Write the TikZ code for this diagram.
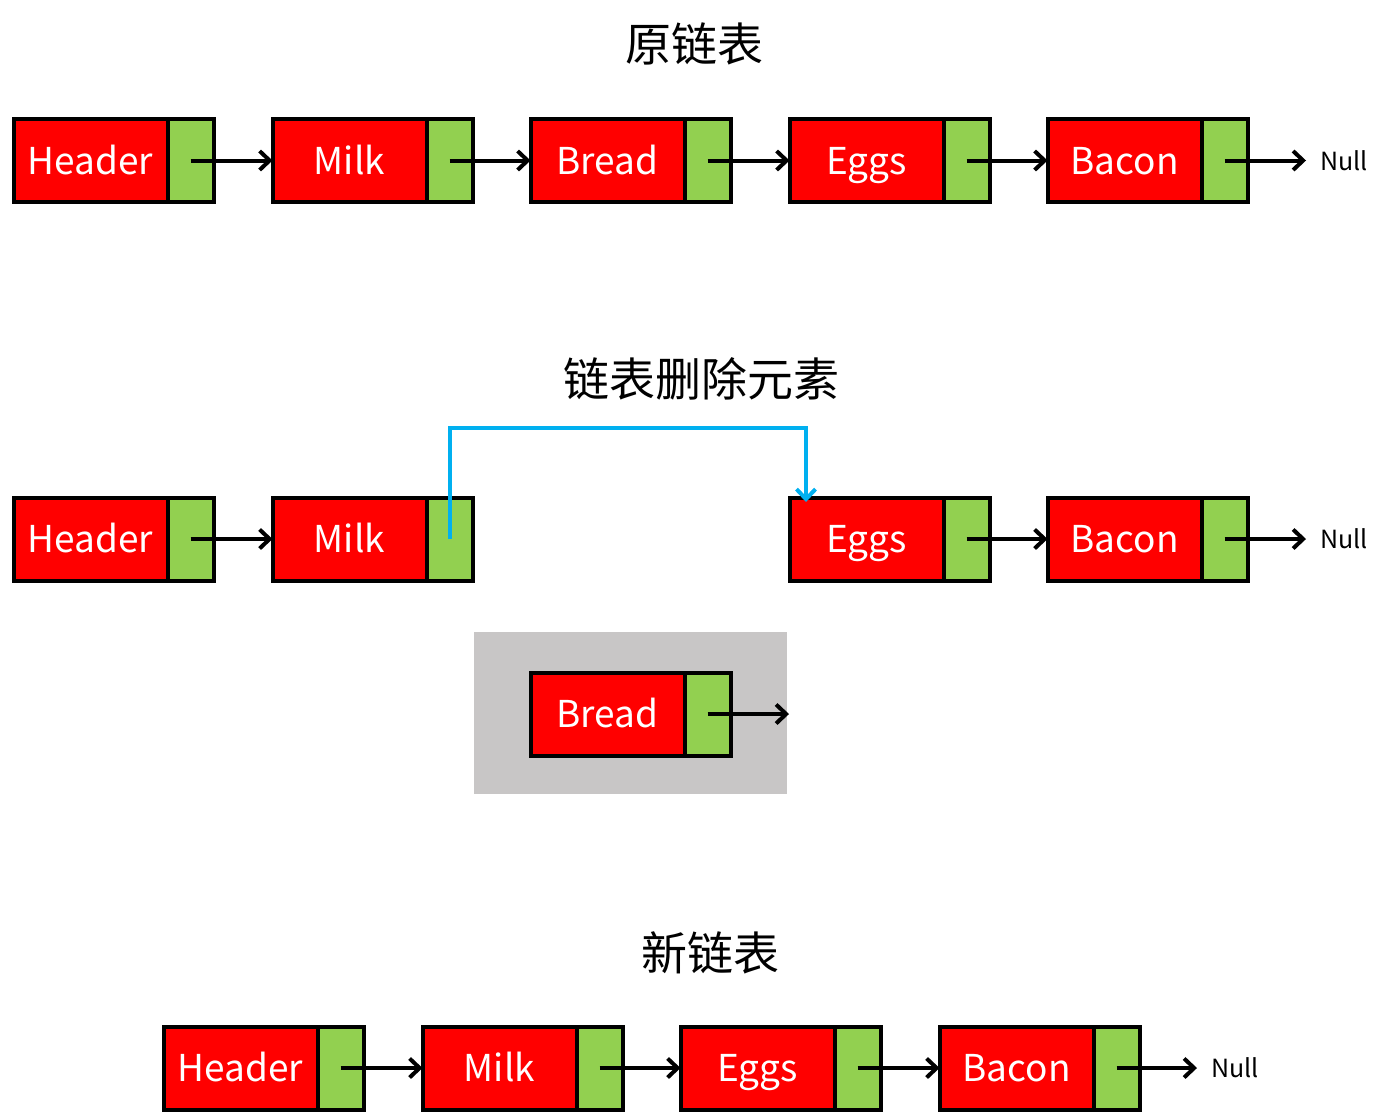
\documentclass[tikz,border=0pt]{standalone}
\usepackage{fontspec}
\setmainfont{Noto Sans CJK SC}
\usetikzlibrary{arrows.meta}
\definecolor{nodered}{HTML}{FF0000}
\definecolor{nodegreen}{HTML}{92D050}
\definecolor{linkblue}{HTML}{00B0F0}
\definecolor{grayback}{HTML}{C8C6C6}
\tikzset{
  datapart/.style={draw=black, line width=4pt, fill=nodered, minimum width=154pt, minimum height=83pt, inner sep=0pt, outer sep=0pt, text=white, text height=27pt, text depth=0pt, font=\fontsize{37}{37}\selectfont},
  ptrpart/.style={draw=black, line width=4pt, fill=nodegreen, minimum width=46pt, minimum height=83pt, inner sep=0pt, outer sep=0pt, anchor=west},
  link/.style={draw=black, line width=4pt, -{Straight Barb[length=10pt,width=19pt,line width=4pt]}},
  bluelink/.style={draw=linkblue, line width=4pt, -{Straight Barb[length=10pt,width=19pt,line width=4pt]}},
  title/.style={font=\fontsize{46}{46}\selectfont, text=black},
  nulltext/.style={font=\fontsize{25}{25}\selectfont, text=black, anchor=west, inner sep=0pt},
  graybox/.style={fill=grayback, draw=none, minimum width=313pt, minimum height=162pt, inner sep=0pt}
}
\begin{document}
\begin{tikzpicture}[x=1pt,y=-1pt]
\useasboundingbox (0,0) rectangle (1383,1117);
% titles
\node[title] (t1) at (694,44) {原链表};
\node[title] (t2) at (701,379) {链表删除元素};
\node[title] (t3) at (710,953) {新链表};

% row 1
\node[datapart] (a1) at (90.5,160.5) {Header};
\node[ptrpart] (a1p) at (a1.east) {};
\node[datapart] (a2) at (349.5,160.5) {Milk};
\node[ptrpart] (a2p) at (a2.east) {};
\node[datapart] (a3) at (607.5,160.5) {Bread};
\node[ptrpart] (a3p) at (a3.east) {};
\node[datapart] (a4) at (866.5,160.5) {Eggs};
\node[ptrpart] (a4p) at (a4.east) {};
\node[datapart] (a5) at (1124.5,160.5) {Bacon};
\node[ptrpart] (a5p) at (a5.east) {};
\coordinate (a6) at (1306,160.5);
\node[nulltext] (an) at (1320,160.5) {Null};
\draw[link] (a1p.center) -- (a2.west);
\draw[link] (a2p.center) -- (a3.west);
\draw[link] (a3p.center) -- (a4.west);
\draw[link] (a4p.center) -- (a5.west);
\draw[link] (a5p.center) -- (a6);

% row 2
\node[datapart] (b1) at (90.5,539) {Header};
\node[ptrpart] (b1p) at (b1.east) {};
\node[datapart] (b2) at (349.5,539) {Milk};
\node[ptrpart] (b2p) at (b2.east) {};
\node[datapart] (b4) at (866.5,539) {Eggs};
\node[ptrpart] (b4p) at (b4.east) {};
\node[datapart] (b5) at (1124.5,539) {Bacon};
\node[ptrpart] (b5p) at (b5.east) {};
\coordinate (b6) at (1306,539);
\node[nulltext] (bn) at (1320,539) {Null};
\draw[link] (b1p.center) -- (b2.west);
\draw[link] (b4p.center) -- (b5.west);
\draw[link] (b5p.center) -- (b6);
\coordinate (bturn) at (806,428);
\coordinate (bend) at (806,502);
\draw[bluelink] (b2p.center) |- (bturn) -- (bend);

% removed Bread
\node[graybox] (gb) at (630.5,713) {};
\node[datapart] (c3) at (607.5,714) {Bread};
\node[ptrpart] (c3p) at (c3.east) {};
\coordinate (c6) at (789,714);
\draw[link] (c3p.center) -- (c6);

% row 3
\node[datapart] (d1) at (240.5,1068) {Header};
\node[ptrpart] (d1p) at (d1.east) {};
\node[datapart] (d2) at (499.5,1068) {Milk};
\node[ptrpart] (d2p) at (d2.east) {};
\node[datapart] (d4) at (757.5,1068) {Eggs};
\node[ptrpart] (d4p) at (d4.east) {};
\node[datapart] (d5) at (1016.5,1068) {Bacon};
\node[ptrpart] (d5p) at (d5.east) {};
\coordinate (d6) at (1197,1068);
\node[nulltext] (dn) at (1211,1068) {Null};
\draw[link] (d1p.center) -- (d2.west);
\draw[link] (d2p.center) -- (d4.west);
\draw[link] (d4p.center) -- (d5.west);
\draw[link] (d5p.center) -- (d6);
\end{tikzpicture}
\end{document}
